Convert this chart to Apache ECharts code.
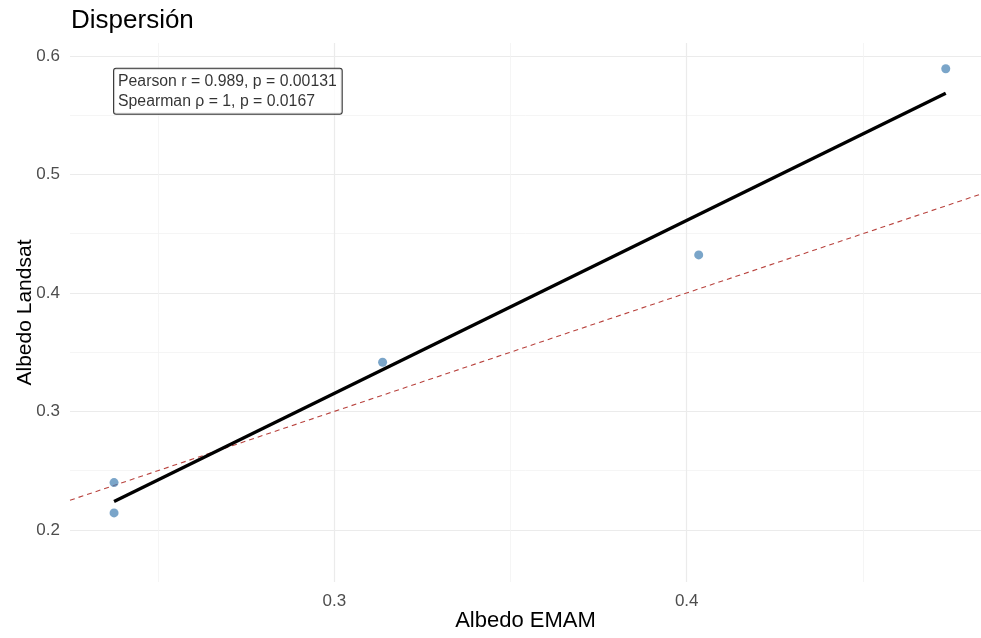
<!DOCTYPE html>
<html>
<head>
<meta charset="utf-8">
<script src="https://cdn.jsdelivr.net/npm/echarts@6/dist/echarts.min.js"></script>
<style>
html,body{margin:0;padding:0;background:#fff;}
#chart{width:981px;height:638px;}
</style>
</head>
<body>
<div id="chart"></div>
<script>
// Observed points (Albedo EMAM vs Albedo Landsat)
const albedoEMAM    = [0.2375, 0.2375, 0.3137, 0.4034, 0.4735];
const albedoLandsat = [0.2399, 0.2143, 0.3415, 0.4321, 0.5893];
// Fitted linear regression line endpoints
const fitX = [0.2375, 0.4735];
const fitY = [0.2240, 0.5685];
// 1:1 reference line endpoints (spanning the axis range)
const refX = [0.2250, 0.4835];
const refY = [0.2250, 0.4835];
// Axis ranges
const xRange = [0.2250, 0.4835];
const yRange = [0.1560, 0.6110];
// Annotation
const statLines = ['Pearson r = 0.989, p = 0.00131', 'Spearman \u03C1 = 1, p = 0.0167'];

const FONT = 'Liberation Sans, Arial, sans-serif';
const pts = albedoEMAM.map((x, i) => [x, albedoLandsat[i]]);
const fit = fitX.map((x, i) => [x, fitY[i]]);
const ref = refX.map((x, i) => [x, refY[i]]);
const annX = Math.min(...albedoEMAM), annY = Math.max(...albedoLandsat);

const gridLine = {show: true, showMinLine: false, showMaxLine: false, lineStyle: {color: '#ebebeb', width: 1.2}};
const minorLine = {show: true, lineStyle: {color: '#f2f2f2', width: 0.8}};

const chart = echarts.init(document.getElementById('chart'));
chart.setOption({
  animation: false,
  backgroundColor: '#fff',
  textStyle: {fontFamily: FONT},
  title: {
    text: 'Dispersión', left: 71, top: 8, padding: 0,
    textStyle: {fontFamily: FONT, fontSize: 26, fontWeight: 'normal', color: '#000'}
  },
  grid: {left: 70, right: 0, top: 43, bottom: 56, containLabel: false, outerBoundsMode: 'none'},
  xAxis: {
    type: 'value', min: xRange[0], max: xRange[1], splitNumber: 3,
    name: 'Albedo EMAM', nameLocation: 'middle', nameGap: 28, nameMoveOverlap: false,
    nameTextStyle: {fontFamily: FONT, fontSize: 22, color: '#000'},
    axisLine: {show: false}, axisTick: {show: false},
    axisLabel: {showMinLabel: false, showMaxLabel: false, fontFamily: FONT, fontSize: 17, color: '#4d4d4d', margin: 11,
      formatter: v => (Math.round(v * 10) / 10).toFixed(1)},
    splitLine: gridLine,
    minorTick: {show: false, splitNumber: 2},
    minorSplitLine: minorLine
  },
  yAxis: {
    type: 'value', min: yRange[0], max: yRange[1], splitNumber: 5,
    name: 'Albedo Landsat', nameLocation: 'middle', nameGap: 34, nameMoveOverlap: false,
    nameTextStyle: {fontFamily: FONT, fontSize: 21, color: '#000'},
    axisLine: {show: false}, axisTick: {show: false},
    axisLabel: {showMinLabel: false, showMaxLabel: false, fontFamily: FONT, fontSize: 17, color: '#4d4d4d', margin: 10,
      formatter: v => (Math.round(v * 10) / 10).toFixed(1)},
    splitLine: gridLine,
    minorTick: {show: false, splitNumber: 2},
    minorSplitLine: minorLine
  },
  series: [
    {
      type: 'line', data: ref, symbol: 'none', silent: true, clip: true, z: 2,
      lineStyle: {color: '#b8423d', width: 1.1, type: [5, 4]}
    },
    {
      type: 'line', data: fit, symbol: 'none', silent: true, z: 3,
      lineStyle: {color: '#000', width: 3.3}
    },
    {
      type: 'scatter', data: pts, symbolSize: 9, z: 4,
      itemStyle: {color: 'steelblue', opacity: 0.72}
    },
    {
      type: 'scatter', data: [[annX, annY]], symbolSize: 0, z: 5, silent: true,
      label: {
        show: true, position: [0, 0], align: 'left', verticalAlign: 'top',
        formatter: statLines.join('\n'),
        fontFamily: FONT, fontSize: 15.8, lineHeight: 20, color: '#000',
        backgroundColor: '#fff', borderColor: '#000', borderWidth: 1, borderRadius: 2,
        padding: [3, 5, 2, 4]
      }
    }
  ]
});
</script>
</body>
</html>
